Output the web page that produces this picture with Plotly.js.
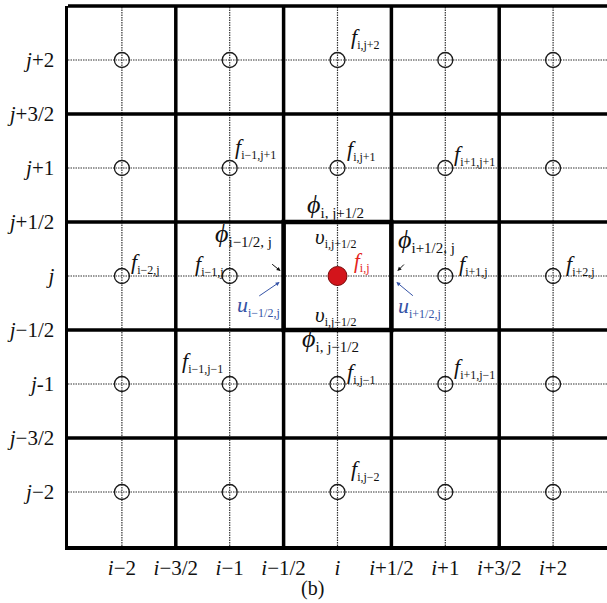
<!DOCTYPE html>
<html>
<head>
<meta charset="utf-8">
<script src="https://cdn.plot.ly/plotly-3.0.1.min.js"></script>
<style>
  html, body { margin: 0; padding: 0; background: #fff; }
  #chart { width: 607px; height: 603px; }
</style>
</head>
<body>
<div id="chart"></div>
<script>
// Staggered finite-volume grid around cell (i, j)

// Axis ticks: cell centres (integers) and cell faces (half-integers)
const tickVals = [-2, -1.5, -1, -0.5, 0, 0.5, 1, 1.5, 2];
const xTickText = ['<i>i</i>−2', '<i>i</i>−3/2', '<i>i</i>−1', '<i>i</i>−1/2', '<i>i</i>',
                   '<i>i</i>+1/2', '<i>i</i>+1', '<i>i</i>+3/2', '<i>i</i>+2'];
const yTickText = ['<i>j</i>−2', '<i>j</i>−3/2', '<i>j</i>-1', '<i>j</i>−1/2', '<i>j</i>',
                   '<i>j</i>+1/2', '<i>j</i>+1', '<i>j</i>+3/2', '<i>j</i>+2'];

// Node indices (cell centres) and cell faces
const nodeI = [-2, -1, 0, 1, 2];
const nodeJ = [2, 1, 0, -1, -2];
const faces = [-1.5, -0.5, 0.5, 1.5];
const centreCell = [-0.5, 0.5];

// Variable labels: symbol, subscript, anchor (in grid units), kind
const labelSym  = ['f', 'f', 'f', 'f', 'ϕ', 'ϕ', 'ϕ', 'υ', 'f', 'f', 'f', 'f', 'f',
                   'u', 'u', 'υ', 'ϕ', 'f', 'f', 'f', 'f'];
const labelSub  = ['i,j+2', 'i−1,j+1', 'i,j+1', 'i+1,j+1', 'i, j+1/2', 'i−1/2, j', 'i+1/2, j',
                   'i,j+1/2', 'i,j', 'i−1,j', 'i−2,j', 'i+1,j', 'i+2,j',
                   'i−1/2,j', 'i+1/2,j', 'i,j−1/2', 'i, j−1/2',
                   'i−1,j−1', 'i,j−1', 'i+1,j−1', 'i,j−2'];
const labelX    = [0.11, -0.97, 0.065, 1.065, -0.305, -1.156, 0.546,
                   -0.23, 0.13, -1.34, -1.93, 1.11, 2.1,
                   -0.954, 0.546, -0.23, -0.35,
                   -1.46, 0.065, 1.065, 0.11];
const labelY    = [2.2, 1.185, 1.17, 1.12, 0.657, 0.38, 0.333,
                   0.35, 0.13, 0.1, 0.12, 0.1, 0.1,
                   -0.28, -0.287, -0.37, -0.59,
                   -0.8, -0.9, -0.85, -1.8];
const labelKind = ['f', 'f', 'f', 'f', 'phi', 'phi', 'phi', 'v', 'fc', 'f', 'f', 'f', 'f',
                   'u', 'u', 'v', 'phi', 'f', 'f', 'f', 'f'];

// Face-flux pointers: tail -> tip, in grid units
const arrowTailX = [-0.62, 0.63, -0.74, 0.713];
const arrowTailY = [0.12, 0.12, -0.194, -0.194];
const arrowTipX  = [-0.528, 0.556, -0.537, 0.546];
const arrowTipY  = [0.046, 0.046, -0.056, -0.056];
const arrowKind  = ['k', 'k', 'u', 'u'];

const SERIF = '"Liberation Serif", "Times New Roman", serif';
const BLUE = '#3553a6';
const RED = '#e3231c';

// Open circles at every node except the central one
const openX = [], openY = [];
nodeJ.forEach(j => nodeI.forEach(i => {
  if (!(i === 0 && j === 0)) { openX.push(i); openY.push(j); }
}));

const traces = [
  {
    type: 'scatter', mode: 'markers', x: openX, y: openY, hoverinfo: 'skip',
    marker: { symbol: 'circle-open', size: 15, color: '#1a1a1a', line: { width: 1.3, color: '#1a1a1a' } },
    cliponaxis: false
  },
  {
    type: 'scatter', mode: 'markers', x: [nodeI[2]], y: [nodeJ[2]], hoverinfo: 'skip',
    marker: { symbol: 'circle', size: 19, color: '#d3141b', line: { width: 1, color: '#7a0a0a' } }
  }
];

const shapes = [];
// thin dotted lines through the nodes
const thin = { color: '#333', width: 1.2, dash: '1.5px,1px' };
nodeI.forEach(v => {
  shapes.push({ type: 'line', xref: 'x', yref: 'paper', x0: v, x1: v, y0: 0, y1: 1,
                layer: 'below', line: thin });
  shapes.push({ type: 'line', xref: 'paper', yref: 'y', x0: 0, x1: 1, y0: v, y1: v,
                layer: 'below', line: thin });
});
// thick cell faces
faces.forEach(v => {
  shapes.push({ type: 'line', xref: 'x', yref: 'paper', x0: v, x1: v, y0: 0, y1: 1,
                line: { color: '#000', width: 3.5 } });
  shapes.push({ type: 'line', xref: 'paper', yref: 'y', x0: 0, x1: 1, y0: v, y1: v,
                line: { color: '#000', width: 3.5 } });
});
// control volume of cell (i, j)
shapes.push({ type: 'rect', xref: 'x', yref: 'y',
              x0: centreCell[0], x1: centreCell[1], y0: centreCell[0], y1: centreCell[1],
              line: { color: '#000', width: 4.5 } });
// top border
shapes.push({ type: 'line', xref: 'paper', yref: 'paper', x0: 0, x1: 1, y0: 1, y1: 1,
              line: { color: '#000', width: 3.5 } });

function labelHtml(sym, sub, kind) {
  const subSize = kind === 'phi' ? 15 : 12;
  return '<i>' + sym + '</i><sub><span style="font-size:' + subSize + 'px">' + sub + '</span></sub>';
}
const kindStyle = {
  f:   { size: 22, color: '#111' },
  fc:  { size: 21, color: RED },
  phi: { size: 26, color: '#111' },
  v:   { size: 21, color: '#111' },
  u:   { size: 22, color: BLUE }
};

const annotations = labelSym.map((s, k) => ({
  xref: 'x', yref: 'y', x: labelX[k], y: labelY[k],
  xanchor: 'left', yanchor: 'middle', showarrow: false,
  text: labelHtml(s, labelSub[k], labelKind[k]),
  font: { family: SERIF, size: kindStyle[labelKind[k]].size, color: kindStyle[labelKind[k]].color }
}));

arrowTipX.forEach((x, k) => {
  annotations.push({
    xref: 'x', yref: 'y', axref: 'x', ayref: 'y',
    x: x, y: arrowTipY[k], ax: arrowTailX[k], ay: arrowTailY[k],
    text: '', showarrow: true, arrowhead: 2, arrowsize: 0.8, arrowwidth: 1,
    arrowcolor: arrowKind[k] === 'u' ? BLUE : '#111'
  });
});

// panel caption
annotations.push({
  xref: 'paper', yref: 'paper', x: 0.4527, y: -0.078, xanchor: 'center', yanchor: 'middle',
  showarrow: false, text: '(b)', font: { family: SERIF, size: 20, color: '#111' }
});

const axisCommon = {
  range: [-2.5, 2.5], tickvals: tickVals, showgrid: false, zeroline: false,
  ticks: '', showline: true, linecolor: '#000', linewidth: 3.5,
  tickfont: { family: SERIF, size: 21, color: '#111' }, fixedrange: true
};

const layout = {
  width: 607, height: 603,
  margin: { l: 68, r: 0, t: 6, b: 57 },
  paper_bgcolor: '#fff', plot_bgcolor: '#fff',
  showlegend: false,
  xaxis: Object.assign({}, axisCommon, { ticktext: xTickText, ticklabelstandoff: 0 }),
  yaxis: Object.assign({}, axisCommon, { ticktext: yTickText, ticklabelstandoff: 6 }),
  shapes: shapes,
  annotations: annotations
};

Plotly.newPlot('chart', traces, layout, { displayModeBar: false, staticPlot: true });
</script>
</body>
</html>
